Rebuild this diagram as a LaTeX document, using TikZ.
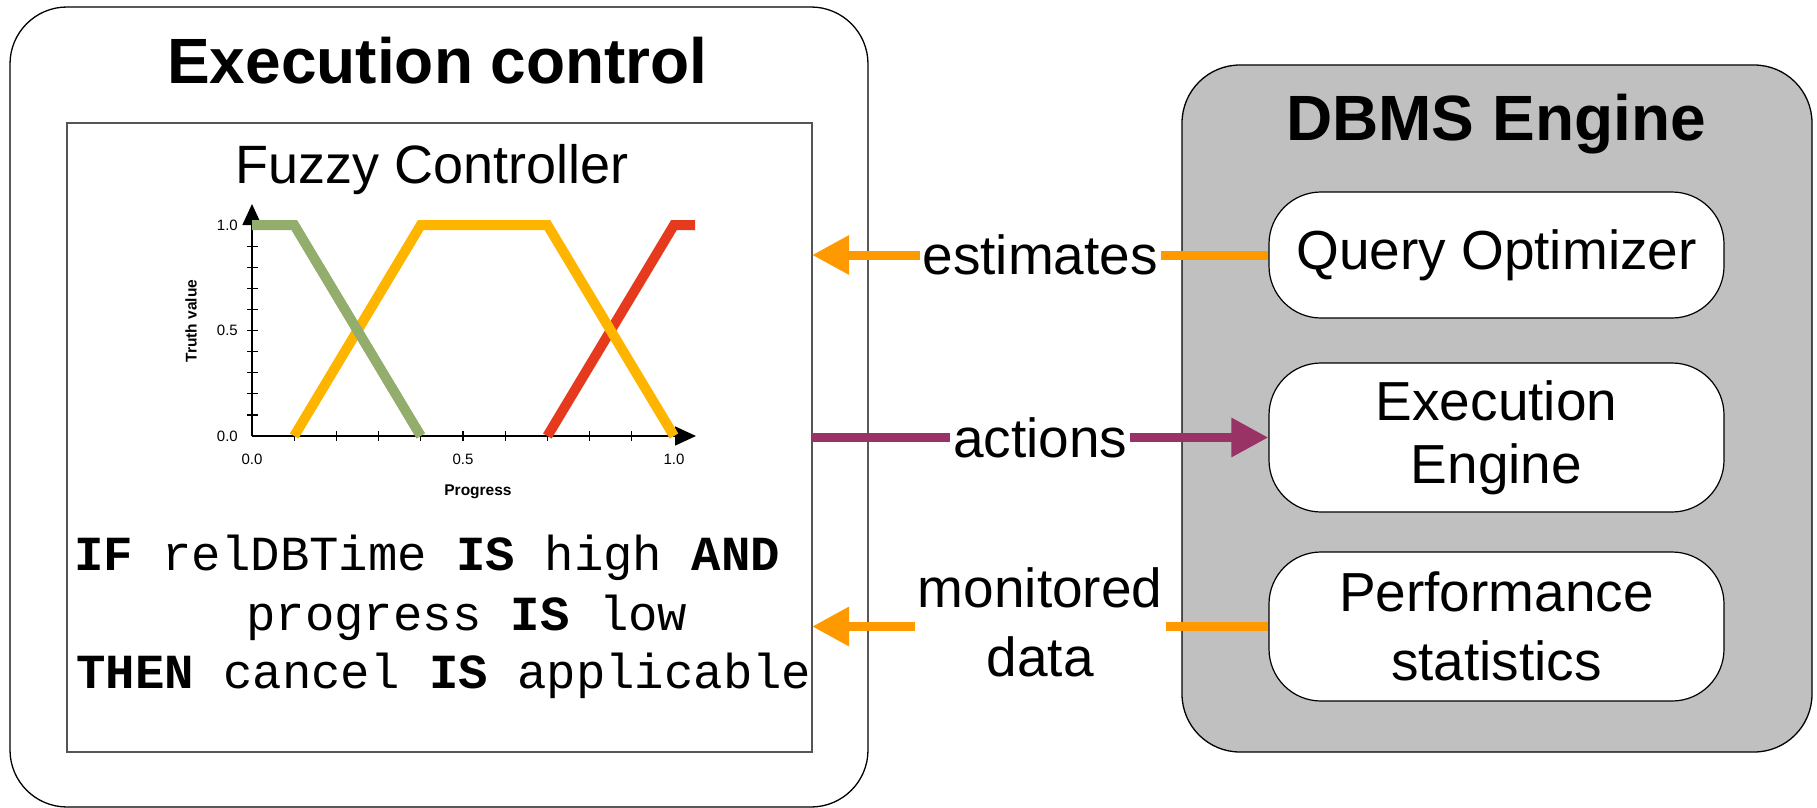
\documentclass[tikz,border=0pt]{standalone}
\usepackage{fontspec}
\setmainfont{Liberation Sans}
\setmonofont{Liberation Mono}
\usetikzlibrary{arrows.meta}
\definecolor{arrorange}{HTML}{FF9900}
\definecolor{actpurple}{HTML}{993366}
\definecolor{dbgray}{HTML}{C0C0C0}
\definecolor{fzgreen}{HTML}{93AD6C}
\definecolor{fzorange}{HTML}{FFB400}
\definecolor{fzred}{HTML}{E63A1E}
\definecolor{boxline}{HTML}{555555}
\begin{document}
\begin{tikzpicture}[x=1pt,y=-1pt,
  panel/.style={draw=black, line width=1.3pt, inner sep=0pt, outer sep=0pt},
  comp/.style={draw=black, fill=white, line width=1.2pt, rounded corners=52pt,
    minimum width=455pt, inner sep=0pt, align=center},
  heading/.style={font=\fontsize{64pt}{77pt}\selectfont\bfseries, inner sep=0pt, anchor=base},
  flowlbl/.style={text=black, font=\fontsize{55pt}{69pt}\selectfont, align=center, fill=white, inner sep=3pt},
  flowarrow/.style={line width=9pt, -{Triangle[length=37pt,width=37pt]}},
  rulecode/.style={anchor=base west, inner sep=0pt, font=\fontsize{49pt}{59pt}\selectfont\ttfamily},
  ticklbl/.style={font=\fontsize{15pt}{18pt}\selectfont, inner sep=0pt},
  axislbl/.style={font=\fontsize{15.5pt}{18pt}\selectfont\bfseries, inner sep=0pt},
  mf/.style={line width=10pt},
  axisline/.style={line width=1.5pt, -{Triangle[length=21pt,width=19pt]}}
]
\useasboundingbox (0,0) rectangle (1817,808);

% panels
\node[panel, rounded corners=57pt, minimum width=858pt, minimum height=800pt] (outer) at (439,407) {};
\node[panel, draw=boxline, line width=1.6pt, minimum width=745pt, minimum height=629pt] (inner) at (439.5,437.5) {};
\node[panel, fill=dbgray, rounded corners=58pt, minimum width=630pt, minimum height=687pt] (dbms) at (1497,408.5) {};

% titles
\node[heading] (ectitle) at (437.5,83) {Execution control};
\node[heading] (dbtitle) at (1496,140) {DBMS Engine};
\node[font=\fontsize{54pt}{65pt}\selectfont, anchor=base, inner sep=0pt] (fctitle) at (432,183) {Fuzzy Controller};

% components
\node[comp, minimum height=126pt, font=\fontsize{55pt}{63pt}\selectfont] (qo) at (1496.5,255) {Query Optimizer};
\node[comp, minimum height=149pt, font=\fontsize{55pt}{63pt}\selectfont] (ee) at (1496.5,437.5) {Execution\\Engine};
\node[comp, minimum height=149pt, font=\fontsize{55pt}{69pt}\selectfont] (ps) at (1496.5,626.5) {Performance\\statistics};

% chart
\draw[axisline] (252,436) -- (252,204);
\draw[axisline] (252,436) -- (696,436);
\foreach \i in {1,...,9} {
  \draw[line width=1.2pt] (247,{436-21.1*\i}) -- (258,{436-21.1*\i});
  \draw[line width=1.2pt] ({252+42.2*\i},431) -- ({252+42.2*\i},441);
}
\begin{scope}[shift={(252,436)}, x=422pt, y=211pt]
  \draw[fzred, mf] (0.7,0) -- (1.0,1) -- (1.05,1);
  \draw[fzorange, mf] (0.1,0) -- (0.4,1) -- (0.7,1) -- (1.0,0);
  \draw[fzgreen, mf] (0,1) -- (0.1,1) -- (0.4,0);
\end{scope}
\node[ticklbl, anchor=east] (y10) at (238,225) {1.0};
\node[ticklbl, anchor=east] (y05) at (238,330.5) {0.5};
\node[ticklbl, anchor=east] (y00) at (238,436) {0.0};
\node[ticklbl] (x00) at (252,459) {0.0};
\node[ticklbl] (x05) at (463,459) {0.5};
\node[ticklbl] (x10) at (674,459) {1.0};
\node[axislbl] (xlab) at (478,492) {Progress};
\node[axislbl, rotate=90] (ylab) at (191,321) {Truth value};

% rule
\node[rulecode] (r1) at (74,570) {\textbf{IF} relDBTime \textbf{IS} high \textbf{AND}};
\node[rulecode] (r2) at (246,630) {progress \textbf{IS} low};
\node[rulecode] (r3) at (76,688) {\textbf{THEN} cancel \textbf{IS} applicable};

% connectors
\draw[flowarrow, arrorange] (qo.west) -- node[flowlbl] (lest) {estimates} (qo.west -| inner.east);
\draw[flowarrow, actpurple] (ee.west -| inner.east) -- node[flowlbl] (lact) {actions} (ee.west);
\draw[flowarrow, arrorange] (ps.west) -- node[flowlbl, yshift=4.5pt] (lmon) {monitored\\data} (ps.west -| inner.east);
\end{tikzpicture}
\end{document}
